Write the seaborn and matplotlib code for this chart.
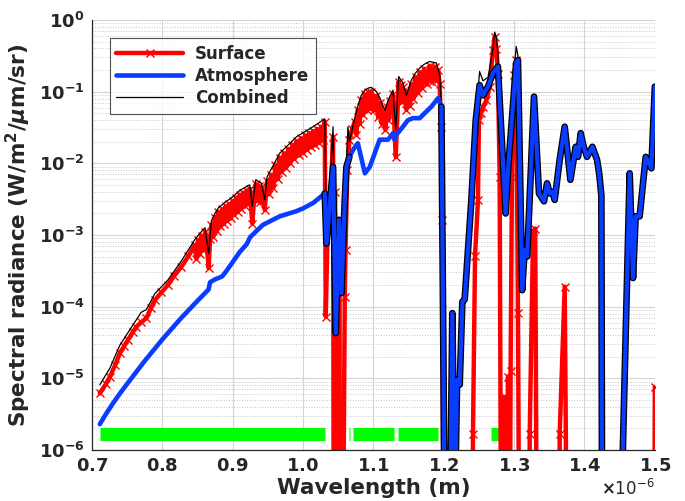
import numpy as np
import matplotlib
matplotlib.use('Agg')
import matplotlib.pyplot as plt
import matplotlib.patheffects as pe
import seaborn as sns

# --- data (wavelength in micrometres, radiance as log10) ---
surf_wl = [0.7114, 0.7200, 0.7256, 0.7330, 0.7398, 0.7460, 0.7516, 0.7580, 0.7635, 0.7700,
           0.7777, 0.7840, 0.7895, 0.7990, 0.8080, 0.8170, 0.8274, 0.8370, 0.8460,
           0.8485, 0.8510, 0.8535, 0.8560, 0.8585, 0.8610, 0.8635, 0.8660, 0.8680, 0.8700,
           0.8725, 0.8750, 0.8775, 0.8800, 0.8825, 0.8850, 0.8875, 0.8900, 0.8925, 0.8950,
           0.8975, 0.9000, 0.9025, 0.9050, 0.9075, 0.9100, 0.9125, 0.9150, 0.9175, 0.9200,
           0.9220, 0.9244, 0.9280, 0.9310, 0.9330, 0.9350, 0.9370, 0.9390, 0.9410, 0.9457,
           0.9490, 0.9520, 0.9550, 0.9580, 0.9610, 0.9640, 0.9670, 0.9700, 0.9730, 0.9760,
           0.9790, 0.9820, 0.9850, 0.9880, 0.9910, 0.9940, 0.9970, 1.0000, 1.0030, 1.0060,
           1.0090, 1.0120, 1.0144, 1.0170, 1.0200, 1.0230, 1.0260, 1.0285, 1.0310,
           1.0324, 1.0350, 1.0385, 1.0428, 1.0440, 1.0455, 1.0468, 1.0485, 1.0500, 1.0515,
           1.0530, 1.0560, 1.0594, 1.0605, 1.0630, 1.0660, 1.0700,
           1.0736, 1.0760, 1.0780, 1.0805, 1.0830, 1.0855, 1.0880, 1.0905, 1.0930, 1.0950,
           1.0970, 1.1005, 1.1044, 1.1070, 1.1100, 1.1120, 1.1138, 1.1170, 1.1200, 1.1215,
           1.1233, 1.1260, 1.1280, 1.1318, 1.1360, 1.1375, 1.1390, 1.1405, 1.1420, 1.1470,
           1.1500, 1.1520, 1.1540, 1.1570, 1.1600, 1.1630, 1.1660, 1.1690, 1.1720, 1.1760,
           1.1800, 1.1835, 1.1870, 1.1896, 1.1920, 1.1943, 1.1960, 1.1980, 1.2000,
           1.2400, 1.2416, 1.2445, 1.2487, 1.2500, 1.2530, 1.2560, 1.2606, 1.2653, 1.2700,
           1.2725, 1.2750, 1.2770, 1.2795, 1.2820, 1.2850, 1.2866, 1.2885, 1.2914, 1.2935,
           1.2950, 1.2970, 1.3000, 1.3030, 1.3055, 1.3080, 1.3215, 1.3222, 1.3270, 1.3300,
           1.3330, 1.3640, 1.3648, 1.3719, 1.3760, 1.4985, 1.5000]
surf_log = [-5.21, -5.08, -4.98, -4.82, -4.65, -4.55, -4.46, -4.36, -4.28, -4.22,
            -4.16, -4.02, -3.91, -3.80, -3.70, -3.57, -3.44, -3.30, -3.14,
            -3.33, -3.07, -3.26, -3.01, -3.21, -2.96, -3.15, -3.46, -3.05, -2.86,
            -3.03, -2.76, -2.95, -2.68, -2.88, -2.64, -2.84, -2.60, -2.80, -2.57,
            -2.77, -2.53, -2.72, -2.48, -2.68, -2.44, -2.64, -2.41, -2.60, -2.38,
            -2.57, -2.36, -2.84, -2.45, -2.29, -2.52, -2.31, -2.54, -2.34, -2.65,
            -2.25, -2.43, -2.16, -2.34, -2.03, -2.22, -1.92, -2.12, -1.86, -2.06,
            -1.80, -2.00, -1.74, -1.94, -1.69, -1.89, -1.65, -1.85, -1.61, -1.81,
            -1.58, -1.77, -1.55, -1.74, -1.52, -1.71, -1.49, -1.68, -1.42,
            -4.14, -2.95, -2.70, -1.63, -9.0, -2.40, -9.0, -2.80, -9.0, -3.20,
            -9.0, -9.0, -3.86, -3.21, -2.10, -1.67, -1.52,
            -1.42, -1.60, -1.26, -1.45, -1.11, -1.32, -1.04, -1.26, -1.01, -1.24,
            -1.00, -1.26, -1.06, -1.36, -1.16, -1.45, -1.27, -1.53, -1.21, -1.40,
            -1.13, -1.30, -1.04, -1.91, -0.86, -1.10, -0.91, -1.15, -0.94, -1.25,
            -1.01, -1.20, -0.90, -1.10, -0.80, -1.02, -0.73, -0.95, -0.68, -0.90,
            -0.64, -0.86, -0.65, -0.85, -0.70, -0.90, -1.50, -2.79, -9.0,
            -9.0, -5.77, -3.30, -2.51, -1.40, -1.30, -1.22, -1.12, -0.93, -0.42,
            -0.24, -0.40, -0.75, -2.19, -9.0, -9.0, -5.26, -9.0, -4.98, -9.0,
            -4.90, -2.19, -0.77, -0.56, -4.09, -9.0, -9.0, -5.77, -2.95, -2.91,
            -9.0, -9.0, -5.77, -3.72, -9.0, -9.0, -5.12]

atm_wl = [0.7114, 0.7200, 0.7300, 0.7400, 0.7500, 0.7625, 0.7750, 0.7875, 0.8000, 0.8125,
          0.8250, 0.8375, 0.8500, 0.8600, 0.8660, 0.8680, 0.8750, 0.8850, 0.8900, 0.9000,
          0.9100, 0.9200, 0.9250, 0.9430, 0.9670, 0.9900, 1.0000, 1.0150, 1.0310, 1.0334,
          1.0428, 1.0466, 1.0513, 1.0547, 1.0594, 1.0618, 1.0660, 1.0720, 1.0780, 1.0880,
          1.0950, 1.1090, 1.1210, 1.1280, 1.1300, 1.1330, 1.1420, 1.1490, 1.1560, 1.1660,
          1.1730, 1.1825, 1.1920, 1.1967, 1.1990, 1.2014, 1.2090, 1.2123, 1.2156, 1.2190,
          1.2227, 1.2265, 1.2298, 1.2393, 1.2455, 1.2510, 1.2558, 1.2630, 1.2700, 1.2770,
          1.2880, 1.2914, 1.3030, 1.3055, 1.3115, 1.3150, 1.3186, 1.3283, 1.3354, 1.3425,
          1.3468, 1.3506, 1.3544, 1.3577, 1.3648, 1.3719, 1.3800, 1.3875, 1.3908, 1.3946,
          1.3989, 1.4036, 1.4112, 1.4178, 1.4210, 1.4240, 1.4250, 1.4520, 1.4642, 1.4690,
          1.4727, 1.4784, 1.4870, 1.4950, 1.5000]
atm_log = [-5.64, -5.50, -5.35, -5.21, -5.08, -4.92, -4.76, -4.61, -4.46, -4.32,
           -4.18, -4.05, -3.92, -3.82, -3.76, -3.66, -3.62, -3.58, -3.52, -3.38,
           -3.24, -3.13, -3.03, -2.86, -2.74, -2.67, -2.63, -2.55, -2.42, -3.12,
           -2.05, -4.37, -2.79, -3.81, -2.51, -2.05, -1.91, -1.80, -1.72, -2.14,
           -2.05, -1.67, -1.67, -1.58, -1.67, -1.60, -1.49, -1.40, -1.37, -1.37,
           -1.30, -1.21, -1.09, -1.21, -4.00, -7.0, -7.0, -4.09, -7.0, -5.02,
           -5.09, -3.93, -3.90, -2.51, -1.40, -0.91, -1.05, -0.93, -0.74, -0.65,
           -2.70, -2.09, -0.60, -0.56, -3.77, -3.21, -3.30, -1.07, -2.42, -2.53,
           -2.28, -2.42, -2.40, -2.51, -1.95, -1.49, -2.23, -1.77, -1.91, -1.58,
           -1.77, -1.91, -1.77, -1.95, -2.15, -2.45, -7.0, -7.0, -2.14, -3.60,
           -2.74, -2.74, -1.91, -2.07, -0.93]

comb_wl = [0.7114, 0.7256, 0.7398, 0.7516, 0.7635, 0.7700, 0.7777, 0.7895, 0.8080, 0.8274,
           0.8460, 0.8560, 0.8610, 0.8660, 0.8700, 0.8750, 0.8800, 0.8900, 0.9000, 0.9100,
           0.9244, 0.9280, 0.9330, 0.9410, 0.9457, 0.9490, 0.9670, 0.9910, 1.0144, 1.0310,
           1.0334, 1.0380, 1.0428, 1.0466, 1.0513, 1.0547, 1.0594, 1.0640, 1.0660, 1.0736,
           1.0780, 1.0830, 1.0880, 1.0930, 1.0970, 1.1044, 1.1100, 1.1138, 1.1170, 1.1200,
           1.1233, 1.1280, 1.1318, 1.1360, 1.1420, 1.1470, 1.1540, 1.1600, 1.1660, 1.1720,
           1.1800, 1.1896, 1.1943, 1.1967, 1.1990, 1.2014, 1.2090, 1.2123, 1.2156, 1.2190,
           1.2227, 1.2265, 1.2298, 1.2393, 1.2455, 1.2510, 1.2558, 1.2630, 1.2700, 1.2725,
           1.2750, 1.2770, 1.2795, 1.2880, 1.2914, 1.3000, 1.3030, 1.3055, 1.3115, 1.3150,
           1.3186, 1.3283, 1.3354, 1.3425, 1.3468, 1.3506, 1.3544, 1.3577, 1.3648, 1.3719,
           1.3800, 1.3875, 1.3908, 1.3946, 1.3989, 1.4036, 1.4112, 1.4178, 1.4210, 1.4240,
           1.4250, 1.4520, 1.4642, 1.4690, 1.4727, 1.4784, 1.4870, 1.4950, 1.5000]
comb_log = [-5.09, -4.86, -4.54, -4.36, -4.18, -4.08, -4.04, -3.82, -3.63, -3.36,
            -3.07, -2.95, -2.90, -3.26, -2.80, -2.70, -2.62, -2.54, -2.47, -2.38,
            -2.30, -2.60, -2.23, -2.28, -2.51, -2.19, -1.86, -1.63, -1.49, -1.38,
            -3.10, -2.40, -1.49, -4.30, -2.75, -3.75, -2.45, -1.49, -1.70, -1.37,
            -1.20, -1.05, -0.98, -0.95, -0.94, -1.00, -1.10, -1.21, -1.26, -1.15,
            -1.07, -0.98, -1.53, -0.79, -0.88, -1.05, -0.84, -0.74, -0.67, -0.62,
            -0.58, -0.60, -0.77, -1.18, -4.00, -7.0, -7.0, -4.09, -7.0, -5.02,
            -5.09, -3.93, -3.90, -2.51, -1.38, -0.72, -0.85, -0.80, -0.40, -0.17,
            -0.25, -0.48, -1.10, -2.70, -2.09, -0.72, -0.37, -0.50, -3.77, -3.21,
            -3.30, -1.07, -2.42, -2.53, -2.28, -2.42, -2.40, -2.51, -1.95, -1.49,
            -2.23, -1.77, -1.91, -1.58, -1.77, -1.91, -1.77, -1.95, -2.15, -2.45,
            -7.0, -7.0, -2.14, -3.60, -2.74, -2.74, -1.91, -2.07, -0.93]

# green bands (surface dominated ranges), micrometres
band_start = [0.7123, 1.0420, 1.0650, 1.0712, 1.1350, 1.2678]
band_end = [1.0310, 1.0435, 1.0662, 1.1294, 1.1920, 1.2782]
band_level = 1.65e-6

# ranges where the atmosphere line shows a black rim
rim_ranges = [(1.0310, 1.0680), (1.1960, 1.5000)]

ytick_vals = [1e-6, 1e-5, 1e-4, 1e-3, 1e-2, 1e-1, 1e0]
ytick_text = [r'$\mathbf{10^{-6}}$', r'$\mathbf{10^{-5}}$', r'$\mathbf{10^{-4}}$',
              r'$\mathbf{10^{-3}}$', r'$\mathbf{10^{-2}}$', r'$\mathbf{10^{-1}}$',
              r'$\mathbf{10^{0}}$']

# --- convert units ---
surf_x = np.array(surf_wl) * 1e-6
surf_y = 10.0 ** np.array(surf_log)
atm_x = np.array(atm_wl) * 1e-6
atm_y = 10.0 ** np.array(atm_log)
comb_x = np.array(comb_wl) * 1e-6
comb_y = 10.0 ** np.array(comb_log)

sns.set_theme(style='white')
plt.rcParams['font.family'] = ['DejaVu Sans']
plt.rcParams['font.weight'] = 'bold'
plt.rcParams['mathtext.fontset'] = 'dejavusans'

fig = plt.figure(figsize=(6.85, 5.01), dpi=100)
ax = fig.add_axes([0.134, 0.1018, 0.822, 0.8584])
ax.set_yscale('log')

# green bars
ax.hlines([band_level] * len(band_start), np.array(band_start) * 1e-6, np.array(band_end) * 1e-6,
          colors='#00ff00', linewidth=9.5, zorder=1.5, capstyle='butt')

sns.lineplot(x=surf_x, y=surf_y, ax=ax, sort=False, estimator=None, color='#ff0000',
             linewidth=3.2, marker='x', markersize=6, markeredgewidth=1.0,
             markeredgecolor='#ff0000', label='Surface', zorder=2)
sns.lineplot(x=atm_x, y=atm_y, ax=ax, sort=False, estimator=None, color='#0a3cff',
             linewidth=3.3, label='Atmosphere', zorder=4)
sns.lineplot(x=comb_x, y=comb_y, ax=ax, sort=False, estimator=None, color='black',
             linewidth=0.9, label='Combined', zorder=3)

# black rim on the atmosphere curve where it matches the combined one
atm_wl_arr = np.array(atm_wl)
rim_mask = np.zeros(len(atm_wl), dtype=bool)
for lo, hi in rim_ranges:
    rim_mask |= (atm_wl_arr >= lo) & (atm_wl_arr <= hi)
ax.plot(atm_x, np.where(rim_mask, atm_y, np.nan), color='#0a3cff', linewidth=3.0, zorder=4.5,
        solid_joinstyle='round',
        path_effects=[pe.Stroke(linewidth=4.8, foreground='black'), pe.Normal()])

ax.set_xlim(0.7e-6, 1.5e-6)
ax.set_ylim(1e-6, 1e0)
ax.set_xticks(np.arange(0.7, 1.51, 0.1) * 1e-6)
fmt = matplotlib.ticker.ScalarFormatter(useMathText=True)
ax.xaxis.set_major_formatter(fmt)
ax.set_yticks(ytick_vals)
ax.set_yticklabels(ytick_text)
ax.yaxis.set_minor_locator(matplotlib.ticker.LogLocator(base=10, subs=np.arange(2, 10), numticks=20))
ax.yaxis.set_minor_formatter(matplotlib.ticker.NullFormatter())

ax.tick_params(axis='both', which='major', direction='in', labelsize=13, length=5,
               width=0.8, color='#262626', labelcolor='#262626', pad=5)
ax.tick_params(axis='y', which='minor', direction='in', length=2.5, width=0.6, color='#262626')
for lab in ax.get_xticklabels():
    lab.set_fontweight('bold')
ax.xaxis.get_offset_text().set_fontsize(12)
ax.xaxis.get_offset_text().set_fontweight('normal')
ax.xaxis.get_offset_text().set_color('#262626')

ax.grid(True, which='major', color='#d4d4d4', linestyle='-', linewidth=0.8, zorder=0)
ax.grid(True, which='minor', axis='y', color='#c8c8c8', linestyle=':', linewidth=0.7, zorder=0)
ax.set_axisbelow(True)

for s in ['top', 'right']:
    ax.spines[s].set_visible(False)
for s in ['left', 'bottom']:
    ax.spines[s].set_color('#262626')
    ax.spines[s].set_linewidth(0.9)

ax.set_xlabel('Wavelength (m)', fontsize=15.5, fontweight='bold', color='#262626', labelpad=2)
ax.set_ylabel(r'Spectral radiance (W/m$^\mathbf{2}$/$\mu$m/sr)', fontsize=15.5,
              fontweight='bold', color='#262626', labelpad=4)

leg = ax.legend(loc='upper left', bbox_to_anchor=(0.032, 0.958), borderaxespad=0,
                fontsize=12, handlelength=4.0, numpoints=1, frameon=True, fancybox=False,
                borderpad=0.4, labelspacing=0.25, handletextpad=0.7)
leg.get_frame().set_edgecolor('#262626')
leg.get_frame().set_linewidth(0.8)
for t in leg.get_texts():
    t.set_fontweight('bold')

fig.savefig('out.png', dpi=100)
